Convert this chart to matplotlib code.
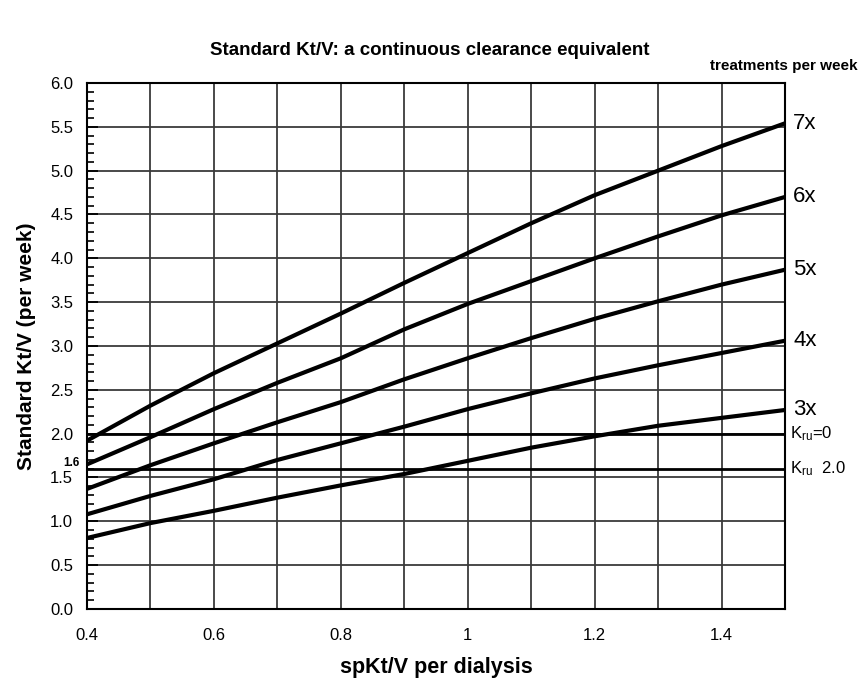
import numpy as np
import matplotlib.pyplot as plt
from matplotlib.ticker import MultipleLocator

plt.rcParams['font.family'] = ['Liberation Sans', 'DejaVu Sans']
plt.rcParams['mathtext.default'] = 'regular'

# spKt/V per dialysis
sp_ktv = [0.4, 0.5, 0.6, 0.7, 0.8, 0.9, 1.0, 1.1, 1.2, 1.3, 1.4, 1.5]

# standard Kt/V for each treatment frequency
std_7x = [1.92, 2.32, 2.69, 3.03, 3.37, 3.72, 4.06, 4.40, 4.72, 5.00, 5.28, 5.54]
std_6x = [1.65, 1.96, 2.28, 2.58, 2.86, 3.19, 3.48, 3.74, 4.00, 4.25, 4.49, 4.70]
std_5x = [1.37, 1.64, 1.89, 2.13, 2.36, 2.62, 2.86, 3.09, 3.31, 3.51, 3.70, 3.87]
std_4x = [1.08, 1.29, 1.48, 1.70, 1.89, 2.08, 2.28, 2.46, 2.63, 2.78, 2.92, 3.06]
std_3x = [0.81, 0.98, 1.12, 1.27, 1.41, 1.54, 1.69, 1.84, 1.97, 2.09, 2.18, 2.27]
curve_labels = ['7x', '6x', '5x', '4x', '3x']

# reference lines
ref_levels = [2.0, 1.6]
ref_labels = ['K$_{ru}$=0', 'K$_{ru}$  2.0']

xtick_vals = [0.4, 0.6, 0.8, 1.0, 1.2, 1.4]
xtick_labels = ['0.4', '0.6', '0.8', '1', '1.2', '1.4']
ytick_vals = [0.0, 0.5, 1.0, 1.5, 2.0, 2.5, 3.0, 3.5, 4.0, 4.5, 5.0, 5.5, 6.0]

fig = plt.figure(figsize=(8.59, 6.79), dpi=100)
ax = fig.add_axes([0.1013, 0.1031, 0.8126, 0.7747])

ax.set_xlim(0.4, 1.5)
ax.set_ylim(0, 6)

# grid: every 0.1 on x, every 0.5 on y
for xv in np.arange(0.5, 1.45, 0.1):
    ax.axvline(xv, color='#3a3a3a', lw=1.3, zorder=1)
for yv in ytick_vals[1:-1]:
    ax.axhline(yv, color='#3a3a3a', lw=1.3, zorder=1)

for lv in ref_levels:
    ax.axhline(lv, color='black', lw=2.0, zorder=2)

series = [std_7x, std_6x, std_5x, std_4x, std_3x]
for ys, lab in zip(series, curve_labels):
    ax.plot(sp_ktv, ys, color='black', lw=3, solid_capstyle='butt', zorder=3)
    ax.text(1.5 + 0.013, ys[-1], lab, fontsize=16, va='center', ha='left',
            clip_on=False)

for lv, lab in zip(ref_levels, ref_labels):
    ax.text(1.5 + 0.008, lv, lab, fontsize=12, va='center', ha='left', clip_on=False)

ax.set_xticks(xtick_vals)
ax.set_xticklabels(xtick_labels)
ax.set_yticks(ytick_vals)
ax.set_yticklabels(['%.1f' % v for v in ytick_vals])
ax.yaxis.set_minor_locator(MultipleLocator(0.1))
ax.tick_params(axis='x', length=0, labelsize=12, pad=14)
ax.tick_params(axis='y', which='major', direction='in', length=8, width=1.3, labelsize=12, pad=10)
ax.tick_params(axis='y', which='minor', direction='in', length=5, width=1.2)

ax.text(0.4 - 0.012, 1.6 + 0.07, '1.6', fontsize=8.5, fontweight='bold', ha='right', va='center')

for sp in ax.spines.values():
    sp.set_linewidth(1.5)
    sp.set_color('black')

ax.set_xlabel('spKt/V per dialysis', fontsize=15.5, fontweight='bold', labelpad=10)
ax.set_ylabel('Standard Kt/V (per week)', fontsize=15, fontweight='bold', labelpad=10)
fig.text(0.5, 0.925, 'Standard Kt/V: a continuous clearance equivalent',
         fontsize=13.5, fontweight='bold', ha='center', va='center')
fig.text(0.998, 0.903, 'treatments per week', fontsize=11, fontweight='bold',
         ha='right', va='center')

fig.savefig('out.png', dpi=100)
